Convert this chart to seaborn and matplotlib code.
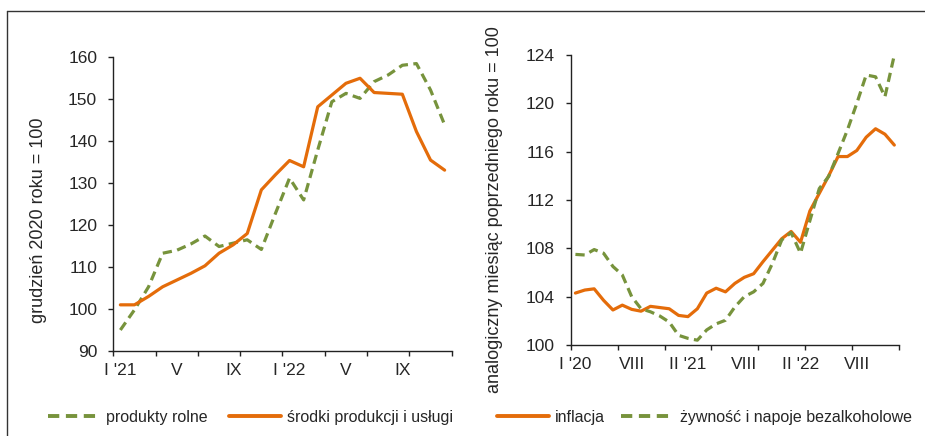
import numpy as np
import pandas as pd
import matplotlib
matplotlib.use("Agg")
import matplotlib.pyplot as plt
from matplotlib.lines import Line2D
import seaborn as sns

# dane - lewy panel (I '21 - XII '22, grudzień 2020 = 100)
rolne = [95, 99.8, 105.3, 113.3, 114, 115.5, 117.4, 114.9, 115.7, 116.5, 114.2, 122.8,
         131.2, 126, 137.9, 149.4, 151.4, 150.2, 154.2, 155.8, 158.1, 158.5, 152.2, 143.9]
srodki = [101, 101, 103, 105.3, 106.9, 108.5, 110.3, 113.3, 115.3, 118, 128.4, 132,
          135.4, 133.9, 148.2, 151, 153.8, 155, 151.6, 151.4, 151.2, 142.3, 135.5, 133.1]
left_labels = ["I '21", "V", "IX", "I '22", "V", "IX"]

# dane - prawy panel (analogiczny miesiąc poprzedniego roku = 100)
inflacja = [104.3, 104.55, 104.65, 103.7, 102.9, 103.3, 102.95, 102.8, 103.2, 103.1, 103.0, 102.45,
            102.35, 103.0, 104.3, 104.7, 104.4, 105.1, 105.6, 105.9, 106.9, 107.85, 108.8, 109.4,
            108.5, 111.1, 112.55, 114.0, 115.6, 115.6, 116.1, 117.2, 117.9, 117.45, 116.55]
zywnosc = [107.5, 107.45, 107.9, 107.6, 106.5, 105.8, 104.0, 103.0, 102.75, 102.4, 101.9, 100.8,
           100.55, 100.4, 101.25, 101.75, 102.05, 103.15, 104.0, 104.4, 105.1, 106.75, 108.7, 109.3,
           107.6, 110.3, 112.95, 113.95, 115.85, 117.8, 120.0, 122.35, 122.2, 120.55, 124.0]
right_labels = ["I '20", "VIII", "II '21", "VIII", "II '22", "VIII"]

ORANGE = "#E46C0A"
GREEN = "#77933C"
DASH = (2.9, 1.7)

sns.set_theme(style="ticks")
plt.rcParams["font.family"] = ["Liberation Sans", "DejaVu Sans"]
plt.rcParams["axes.linewidth"] = 1.0
plt.rcParams["axes.edgecolor"] = "#222222"

df_l = pd.DataFrame({"m": np.arange(len(rolne)), "rolne": rolne, "srodki": srodki})
df_r = pd.DataFrame({"m": np.arange(len(inflacja)), "inflacja": inflacja, "zywnosc": zywnosc})

fig = plt.figure(figsize=(9.25, 4.36), dpi=100)
ax1 = fig.add_axes([0.1225, 0.195, 0.3658, 0.6736])
ax2 = fig.add_axes([0.617, 0.2087, 0.3549, 0.665])

# lewy
sns.lineplot(data=df_l, x="m", y="rolne", color=GREEN, linewidth=2.3, ax=ax1)
ax1.lines[-1].set_dashes(DASH)
sns.lineplot(data=df_l, x="m", y="srodki", color=ORANGE, linewidth=2.3, ax=ax1)

# prawy
sns.lineplot(data=df_r, x="m", y="inflacja", color=ORANGE, linewidth=2.3, ax=ax2)
sns.lineplot(data=df_r, x="m", y="zywnosc", color=GREEN, linewidth=2.3, ax=ax2)
ax2.lines[-1].set_dashes(DASH)

for ax in (ax1, ax2):
    for ln in ax.lines:
        ln.set_clip_on(False)
    sns.despine(ax=ax)
    ax.set_xlabel("")
    ax.tick_params(axis="y", which="major", length=3.6, width=1.0, pad=8, labelsize=12.5, color="#222222")
    ax.tick_params(axis="x", which="major", length=0, pad=8.5, labelsize=12.5)
    ax.tick_params(axis="x", which="minor", length=3.6, width=1.0, color="#222222")

n1 = len(rolne)
ax1.set_xlim(-0.5, n1 - 0.5)
ax1.set_ylim(90, 160)
ax1.set_yticks(np.arange(90, 161, 10))
ax1.set_xticks(np.arange(0, n1, 4))
ax1.set_xticklabels(left_labels)
ax1.set_xticks(np.arange(-0.5, n1, 3), minor=True)
ax1.set_ylabel("grudzień 2020 roku = 100", fontsize=13)
ax1.yaxis.set_label_coords(-0.197, 0.444)

n2 = len(inflacja)
ax2.set_xlim(-0.5, n2 - 0.5)
ax2.set_ylim(100, 124)
ax2.set_yticks(np.arange(100, 125, 4))
ax2.set_xticks(np.arange(0, n2, 6))
ax2.set_xticklabels(right_labels)
ax2.set_xticks(np.arange(-0.5, n2, 5), minor=True)
ax2.set_ylabel("analogiczny miesiąc poprzedniego roku = 100", fontsize=13)
ax2.yaxis.set_label_coords(-0.206, 0.466)

# legendy
def handle(color, dashed):
    h = Line2D([], [], color=color, linewidth=2.8)
    if dashed:
        h.set_dashes(DASH)
    return h

leg_kw = dict(loc="center left", ncol=2, frameon=False, fontsize=11.5, handlelength=3.25,
              handletextpad=0.4, borderpad=0, borderaxespad=0)
fig.legend([handle(GREEN, True), handle(ORANGE, False)],
           ["produkty rolne", "środki produkcji i usługi"],
           bbox_to_anchor=(48 / 925, 1 - 417 / 436), columnspacing=1.3, **leg_kw)
fig.legend([handle(ORANGE, False), handle(GREEN, True)],
           ["inflacja", "żywność i napoje bezalkoholowe"],
           bbox_to_anchor=(497 / 925, 1 - 417 / 436), columnspacing=1.0, **leg_kw)

# ramka
fig.add_artist(Line2D([7 / 925, 1.0], [1 - 11.5 / 436, 1 - 11.5 / 436], color="#333333", linewidth=1.0))
fig.add_artist(Line2D([7 / 925, 7 / 925], [0.0, 1 - 11.5 / 436], color="#333333", linewidth=1.0))

fig.savefig("out.png", dpi=100)
